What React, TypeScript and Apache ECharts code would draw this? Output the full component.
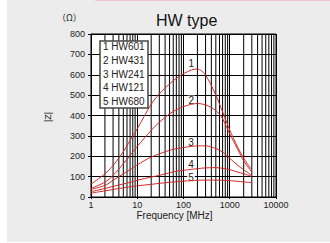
import { useEffect, useRef } from "react";
import * as echarts from "echarts";

const frequencies = [1, 2, 3, 5, 7, 10, 20, 30, 50, 70, 100, 150, 200, 300, 500, 700, 1000, 1500, 2000, 3000];
const hw601 = [63, 114, 155, 222, 278, 335, 455, 506, 555, 582, 605, 624, 628, 598, 500, 418, 328, 243, 190, 133];
const hw431 = [42, 73, 106, 163, 204, 248, 327, 367, 408, 428, 444, 455, 459, 452, 425, 384, 310, 232, 178, 122];
const hw241 = [38, 57, 82, 114, 134, 158, 196, 212, 229, 237, 243, 248, 251, 251, 238, 221, 190, 155, 134, 106];
const hw121 = [26, 42, 52, 64, 72, 82, 98, 106, 119, 126, 131, 136, 139, 143, 144, 141, 134, 122, 114, 101];
const hw680 = [19, 30, 37, 45, 50, 55, 62, 67, 72, 75, 78, 80, 82, 83, 83, 82, 80, 77, 74, 70];

const seriesNames = ["HW601", "HW431", "HW241", "HW121", "HW680"];
const curveNumbers = ["1", "2", "3", "4", "5"];
const labelFreqs = [147, 147, 145, 145, 145];
const labelValues = [655, 473, 268, 160, 96];
const xTickLabels = ["1", "10", "100", "1000", "10000"];
const minorGridFreqs = [2, 3, 4, 5, 6, 7, 8, 9, 20, 30, 40, 50, 60, 70, 80, 90, 200, 300, 400, 500, 600, 700, 800, 900, 2000, 3000, 4000, 5000, 6000, 7000, 8000, 9000];

const FONT = "'Liberation Sans', Arial, sans-serif";
const RED = "#d42b2b";

export default function App() {
  const ref = useRef<HTMLDivElement>(null);
  useEffect(() => {
    if (!ref.current) return;
    const chart = echarts.init(ref.current, null, { renderer: "svg" });
    const allValues = [hw601, hw431, hw241, hw121, hw680];
    const curveSeries = allValues.map((vals, i) => ({
      name: seriesNames[i],
      type: "line",
      z: 5,
      data: frequencies.map((f, j) => [f, vals[j]]),
      smooth: 0.3,
      symbol: "none",
      lineStyle: { color: RED, width: 1 },
      itemStyle: { color: RED },
      markPoint: {
        symbol: "circle",
        symbolSize: 1,
        itemStyle: { color: "rgba(0,0,0,0)" },
        label: {
          show: true,
          position: "inside",
          formatter: curveNumbers[i],
          color: "#222",
          fontSize: 10,
          fontFamily: FONT,
          backgroundColor: "#fff",
          padding: [0, 1],
        },
        data: [{ coord: [labelFreqs[i], labelValues[i]] }],
      },
    }));

    chart.setOption({
      animation: false,
      title: {
        text: "HW type",
        left: 156,
        top: 12,
        padding: 0,
        textStyle: { fontSize: 16, fontWeight: "normal", color: "#111", fontFamily: FONT },
      },
      grid: {
        left: 91,
        top: 34,
        width: 185,
        height: 163,
        show: true,
        backgroundColor: "#fff",
        borderColor: "#000",
        borderWidth: 1,
      },
      xAxis: {
        type: "log",
        logBase: 10,
        min: 1,
        max: 10000,
        axisLine: { show: true, lineStyle: { color: "#000", width: 1 } },
        axisTick: { show: true, length: 2, lineStyle: { color: "#000" } },
        splitLine: { show: true, lineStyle: { color: "#000", width: 1 } },
        axisLabel: {
          fontSize: 9,
          color: "#222",
          fontFamily: FONT,
          margin: 3,
          formatter: (v: number) => {
            const idx = Math.round(Math.log10(v));
            return xTickLabels[idx] ?? String(v);
          },
        },
      },
      yAxis: {
        type: "value",
        min: 0,
        max: 800,
        interval: 100,
        axisLine: { show: true, lineStyle: { color: "#000", width: 1 } },
        axisTick: { show: true, length: 3, lineStyle: { color: "#000" } },
        splitLine: { show: true, lineStyle: { color: "#000", width: 1 } },
        axisLabel: { fontSize: 9, color: "#222", fontFamily: FONT, margin: 6 },
      },
      graphic: [
        {
          type: "text",
          x: 57,
          y: 17,
          z: 100,
          style: {
            text: "（Ω）",
            fontSize: 9,
            fontFamily: "'Noto Sans CJK JP', sans-serif",
            fill: "#222",
            verticalAlign: "middle",
          },
        },
        {
          type: "text",
          x: 48,
          y: 117,
          z: 100,
          rotation: Math.PI / 2,
          style: {
            text: "|Z|",
            fontSize: 9,
            fontFamily: FONT,
            fill: "#222",
            align: "center",
            verticalAlign: "middle",
          },
        },
        {
          type: "text",
          x: 174.5,
          y: 215.7,
          z: 100,
          style: {
            text: "Frequency [MHz]",
            fontSize: 10,
            fontFamily: FONT,
            fill: "#222",
            align: "center",
            verticalAlign: "middle",
          },
        },
        {
          type: "rect",
          z: 100,
          shape: { x: 100, y: 41, width: 48, height: 67 },
          style: { fill: "#fff", stroke: "#444", lineWidth: 1.5 },
        },
        ...seriesNames.map((n, i) => ({
          type: "text",
          z: 101,
          x: 103,
          y: 46.7 + i * 13.75,
          style: {
            text: curveNumbers[i] + " " + n,
            fontSize: 10,
            fontFamily: FONT,
            fill: "#222",
            verticalAlign: "middle",
          },
        })),
      ],
      series: [
        {
          type: "custom",
          z: 1,
          silent: true,
          data: minorGridFreqs.map((f) => [f, 0]),
          encode: { x: 0, y: 1 },
          renderItem: (params: any, api: any) => {
            const f = api.value(0);
            const bottom = api.coord([f, 0]);
            const top = api.coord([f, 800]);
            return {
              type: "line",
              shape: { x1: bottom[0], y1: bottom[1], x2: top[0], y2: top[1] },
              style: { stroke: "#000", lineWidth: 1 },
            };
          },
        },
        ...curveSeries,
      ],
    });
    return () => chart.dispose();
  }, []);

  return (
    <div style={{ position: "fixed", left: 0, top: 0, width: 330, height: 243, background: "#fff" }}>
      <div style={{ position: "absolute", left: 7, top: 0, width: 323, height: 242, background: "#ececec" }} />
      <div style={{ position: "absolute", left: 95, top: 0, width: 235, height: 1, background: "#f2c4ca" }} />
      <div ref={ref} style={{ position: "absolute", left: 0, top: 0, width: 330, height: 243 }} />
    </div>
  );
}
